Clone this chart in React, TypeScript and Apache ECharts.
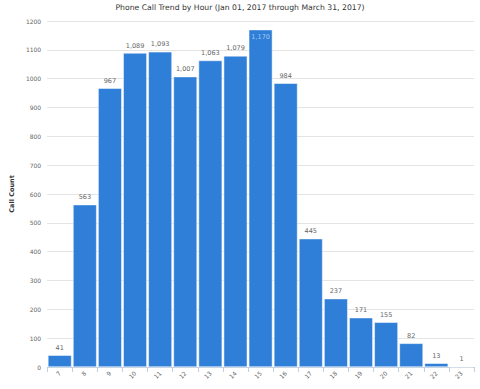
import React, { useEffect, useRef } from "react";
import * as echarts from "echarts";

const hours = ["7", "8", "9", "10", "11", "12", "13", "14", "15", "16", "17", "18", "19", "20", "21", "22", "23"];
const callCounts = [41, 563, 967, 1089, 1093, 1007, 1063, 1079, 1170, 984, 445, 237, 171, 155, 82, 13, 1];
const titleText = "Phone Call Trend by Hour (Jan 01, 2017 through March 31, 2017)";
const yAxisName = "Call Count";

const FONT = "'DejaVu Sans', Verdana, sans-serif";

export default function App() {
  const ref = useRef<HTMLDivElement>(null);
  useEffect(() => {
    document.body.style.margin = "0";
    const chart = echarts.init(ref.current!, undefined, { renderer: "svg" });
    chart.setOption({
      animation: false,
      title: {
        text: titleText,
        left: "center",
        top: 3,
        padding: 0,
        textStyle: { fontFamily: FONT, fontSize: 7.7, fontWeight: "normal", color: "#333333" },
      },
      grid: { left: 35, right: 6, top: 21, bottom: 22, containLabel: false },
      xAxis: {
        type: "category",
        data: hours,
        axisLine: { lineStyle: { color: "#c0d0e0", width: 1 } },
        axisTick: { show: true, alignWithLabel: false, length: 5, lineStyle: { color: "#c0d0e0" } },
        axisLabel: { rotate: 45, fontFamily: FONT, fontSize: 6, color: "#666666", margin: 5 },
      },
      yAxis: {
        type: "value",
        min: 0,
        max: 1200,
        interval: 100,
        name: yAxisName,
        nameLocation: "middle",
        nameGap: 24,
        nameTextStyle: { fontFamily: FONT, fontSize: 6.5, fontWeight: "bold", color: "#333333" },
        axisLine: { show: false },
        axisTick: { show: false },
        axisLabel: { fontFamily: FONT, fontSize: 6, color: "#666666", margin: 6, formatter: (v: number) => String(v) },
        splitLine: { lineStyle: { color: "#e4e4e4", width: 1 } },
      },
      series: [
        {
          type: "bar",
          data: callCounts.map((v) => {
            const inside = v >= 1150;
            return {
              value: v,
              label: inside
                ? { position: "insideTop", color: "#a8c8ee", distance: 4 }
                : { position: "top", color: "#666666", distance: 4 },
            };
          }),
          barCategoryGap: "6%",
          itemStyle: { color: "#2f7ed8", borderColor: "#ffffff", borderWidth: 0.5 },
          label: {
            show: true,
            fontFamily: FONT,
            fontSize: 6.5,
            formatter: (p: any) => Number(p.value).toLocaleString("en-US"),
          },
        },
      ],
    });
    return () => chart.dispose();
  }, []);
  return <div ref={ref} style={{ width: 480, height: 389 }} />;
}
